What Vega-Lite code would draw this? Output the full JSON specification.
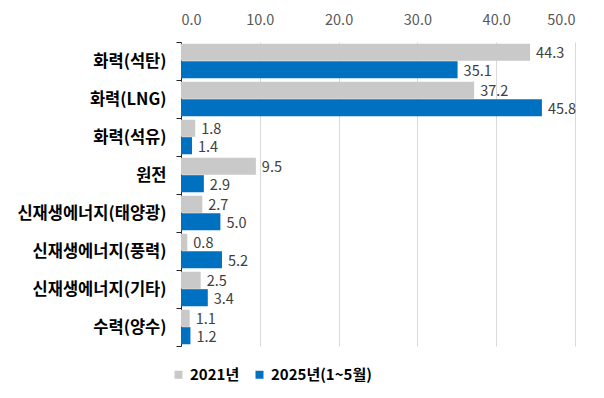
{
  "$schema": "https://vega.github.io/schema/vega-lite/v6.json",
  "autosize": "none",
  "width": 394,
  "height": 304,
  "padding": {"left": 181, "top": 42, "right": 29, "bottom": 52},
  "background": "white",
  "config": {
    "font": "Noto Sans CJK KR",
    "view": {"stroke": null}
  },
  "data": {
    "values": [
      {"cat": "화력(석탄)", "series": "2021년", "v": 44.3},
      {"cat": "화력(석탄)", "series": "2025년(1~5월)", "v": 35.1},
      {"cat": "화력(LNG)", "series": "2021년", "v": 37.2},
      {"cat": "화력(LNG)", "series": "2025년(1~5월)", "v": 45.8},
      {"cat": "화력(석유)", "series": "2021년", "v": 1.8},
      {"cat": "화력(석유)", "series": "2025년(1~5월)", "v": 1.4},
      {"cat": "원전", "series": "2021년", "v": 9.5},
      {"cat": "원전", "series": "2025년(1~5월)", "v": 2.9},
      {"cat": "신재생에너지(태양광)", "series": "2021년", "v": 2.7},
      {"cat": "신재생에너지(태양광)", "series": "2025년(1~5월)", "v": 5.0},
      {"cat": "신재생에너지(풍력)", "series": "2021년", "v": 0.8},
      {"cat": "신재생에너지(풍력)", "series": "2025년(1~5월)", "v": 5.2},
      {"cat": "신재생에너지(기타)", "series": "2021년", "v": 2.5},
      {"cat": "신재생에너지(기타)", "series": "2025년(1~5월)", "v": 3.4},
      {"cat": "수력(양수)", "series": "2021년", "v": 1.1},
      {"cat": "수력(양수)", "series": "2025년(1~5월)", "v": 1.2}
    ]
  },
  "encoding": {
    "y": {
      "field": "cat", "type": "nominal", "sort": null, "title": null,
      "scale": {"paddingInner": 0, "paddingOuter": 0},
      "axis": {
        "labelFontSize": 16.5, "labelFontWeight": "bold", "labelColor": "#000000",
        "labelPadding": 10, "tickBand": "extent", "tickSize": 5,
        "tickColor": "#262626", "domainColor": "#262626", "grid": false
      }
    },
    "yOffset": {
      "field": "series", "type": "nominal", "sort": ["2021년", "2025년(1~5월)"],
      "scale": {"paddingInner": 0.02, "paddingOuter": 0.1}
    },
    "x": {
      "field": "v", "type": "quantitative", "title": null,
      "scale": {"domain": [0, 50], "nice": false},
      "axis": {
        "orient": "top", "values": [0, 10, 20, 30, 40, 50], "format": ".1f",
        "domain": false, "ticks": false, "grid": true, "gridColor": "#d9d9d9",
        "labelFontSize": 14.5, "labelColor": "#595959", "labelPadding": 15
      }
    }
  },
  "layer": [
    {
      "mark": {"type": "bar"},
      "encoding": {
        "color": {
          "field": "series", "type": "nominal", "sort": ["2021년", "2025년(1~5월)"],
          "scale": {"domain": ["2021년", "2025년(1~5월)"], "range": ["#c9c9c9", "#0070c0"]},
          "legend": {
            "title": null, "orient": "none", "direction": "horizontal",
            "legendX": -10, "legendY": 325,
            "labelFontSize": 15, "labelFontWeight": "bold", "labelColor": "#000000",
            "symbolType": "square", "symbolSize": 64, "symbolStrokeWidth": 0,
            "columnPadding": 12, "labelOffset": 4
          }
        }
      }
    },
    {
      "mark": {"type": "text", "align": "left", "dx": 6, "dy": 2, "fontSize": 14.5, "color": "#404040"},
      "encoding": {
        "text": {"field": "v", "type": "quantitative", "format": ".1f"}
      }
    }
  ]
}
